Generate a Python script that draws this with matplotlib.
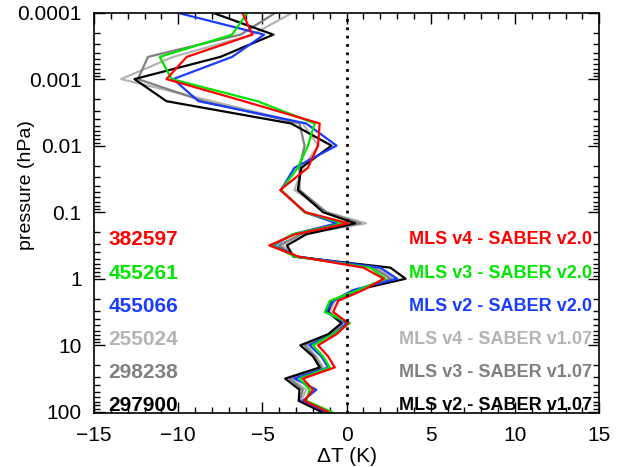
import matplotlib
matplotlib.use("Agg")
import matplotlib.pyplot as plt
from matplotlib.ticker import FixedLocator, LogLocator, MultipleLocator, NullFormatter

plt.rcParams['font.family'] = ['Liberation Sans', 'DejaVu Sans']

# pressure levels (hPa)
pressure = [0.0001, 0.000215, 0.000464, 0.001, 0.00215, 0.00464, 0.01, 0.0215, 0.0464, 0.1,
            0.147, 0.215, 0.316, 0.464, 0.681, 1.0, 1.47, 2.15, 3.16, 4.64, 6.81,
            10, 14.7, 21.5, 31.6, 46.4, 68.1, 100]

# temperature differences (K)
v4_saber107 = [-3.2, -5.6, -10.3, -13.4, -8.0, -2.6, -1.7, -2.6, -3.1, -1.2,
               1.15, -2.7, -3.85, -3.0, 1.8, 2.8, 0.8, -0.7, -1.0, -0.2, -0.9,
               -2.4, -1.8, -1.4, -3.3, -2.4, -2.7, -1.3]
v3_saber107 = [-4.2, -6.3, -11.8, -12.4, -8.5, -2.8, -2.5, -2.8, -2.8, -1.2,
               0.8, -2.7, -4.05, -3.0, 1.6, 2.6, 0.7, -0.8, -1.1, -0.3, -1.0,
               -2.5, -1.9, -1.5, -3.4, -2.6, -2.8, -1.4]
v2_saber107 = [-8.0, -4.35, -7.5, -12.6, -10.7, -3.3, -0.9, -2.7, -2.9, -1.4,
               0.5, -2.4, -3.55, -3.16, 2.6, 3.5, 0.6, -0.9, -1.1, -0.3, -1.1,
               -2.75, -2.0, -1.6, -3.65, -2.8, -2.85, -1.5]
v2_saber20 = [-10.1, -4.9, -6.8, -10.3, -8.8, -2.4, -0.6, -3.1, -3.9, -2.5,
              -0.6, -3.2, -4.35, -2.95, 2.0, 3.0, 0.4, -0.8, -1.2, 0.0, -0.8,
              -2.2, -1.5, -1.1, -3.1, -1.8, -2.6, -1.2]
v3_saber20 = [-5.9, -6.8, -11.1, -10.4, -5.3, -1.9, -2.3, -2.9, -3.9, -2.5,
              -0.2, -3.2, -4.45, -3.06, 1.4, 2.3, 0.7, -1.0, -1.3, 0.2, -0.8,
              -2.0, -1.4, -1.0, -2.8, -2.2, -2.4, -0.9]
v4_saber20 = [-6.2, -5.6, -9.5, -10.7, -6.1, -1.6, -1.7, -2.3, -3.95, -2.45,
              0.1, -3.06, -4.6, -2.86, 1.0, 2.2, 1.0, -0.5, -0.8, 0.1, -0.6,
              -1.7, -1.1, -0.7, -2.6, -2.0, -2.5, -1.1]

series = [v4_saber107, v3_saber107, v2_saber107, v2_saber20, v3_saber20, v4_saber20]
colors = ['#b4b4b4', '#808080', 'black', '#1a3cff', '#00e600', '#ff0000']

# labels listed top to bottom
names = ['MLS v4 - SABER v2.0', 'MLS v3 - SABER v2.0', 'MLS v2 - SABER v2.0',
         'MLS v4 - SABER v1.07', 'MLS v3 - SABER v1.07', 'MLS v2 - SABER v1.07']
counts = ['382597', '455261', '455066', '255024', '298238', '297900']
label_colors = ['#ff0000', '#00e600', '#1a3cff', '#b4b4b4', '#808080', 'black']

fig = plt.figure(figsize=(6.19, 4.67), dpi=100)
ax = fig.add_axes([0.152, 0.1156, 0.816, 0.8576])

for vals, c in zip(series, colors):
    ax.plot(vals, pressure, color=c, lw=1.6)

ax.axvline(0, color='black', ls=(0, (1, 2)), lw=2)

ax.set_yscale('log')
ax.set_ylim(104, 1e-4)
ax.set_xlim(-15, 15)

yt = [0.0001, 0.001, 0.01, 0.1, 1, 10, 100]
ax.yaxis.set_major_locator(FixedLocator(yt))
ax.set_yticklabels(['0.0001', '0.001', '0.01', '0.1', '1', '10', '100'])
ax.yaxis.set_minor_locator(LogLocator(base=10, subs=range(2, 10), numticks=20))
ax.yaxis.set_minor_formatter(NullFormatter())
ax.xaxis.set_major_locator(MultipleLocator(5))
ax.xaxis.set_minor_locator(MultipleLocator(1))

ax.tick_params(which='both', direction='in', top=True, right=True, labelsize=15)
ax.tick_params(which='major', length=8, width=1)
ax.tick_params(which='minor', length=4, width=1)
ax.tick_params(axis='x', which='major', pad=9)
ax.tick_params(axis='y', which='major', pad=9)
for s in ax.spines.values():
    s.set_linewidth(1.2)

ax.set_xlabel('\u0394T (K)', fontsize=15, labelpad=2)
ax.set_ylabel('pressure (hPa)', fontsize=14)
ax.yaxis.set_label_coords(-0.117, 0.569)

for i in range(6):
    yy = 0.432 - i * 0.0824
    ax.text(0.028, yy, counts[i], color=label_colors[i], transform=ax.transAxes,
            fontsize=15, fontweight='bold', va='center', ha='left')
    ax.text(0.986, yy, names[i], color=label_colors[i], transform=ax.transAxes,
            fontsize=13, fontweight='bold', va='center', ha='right')

plt.savefig('out.png', dpi=100)
